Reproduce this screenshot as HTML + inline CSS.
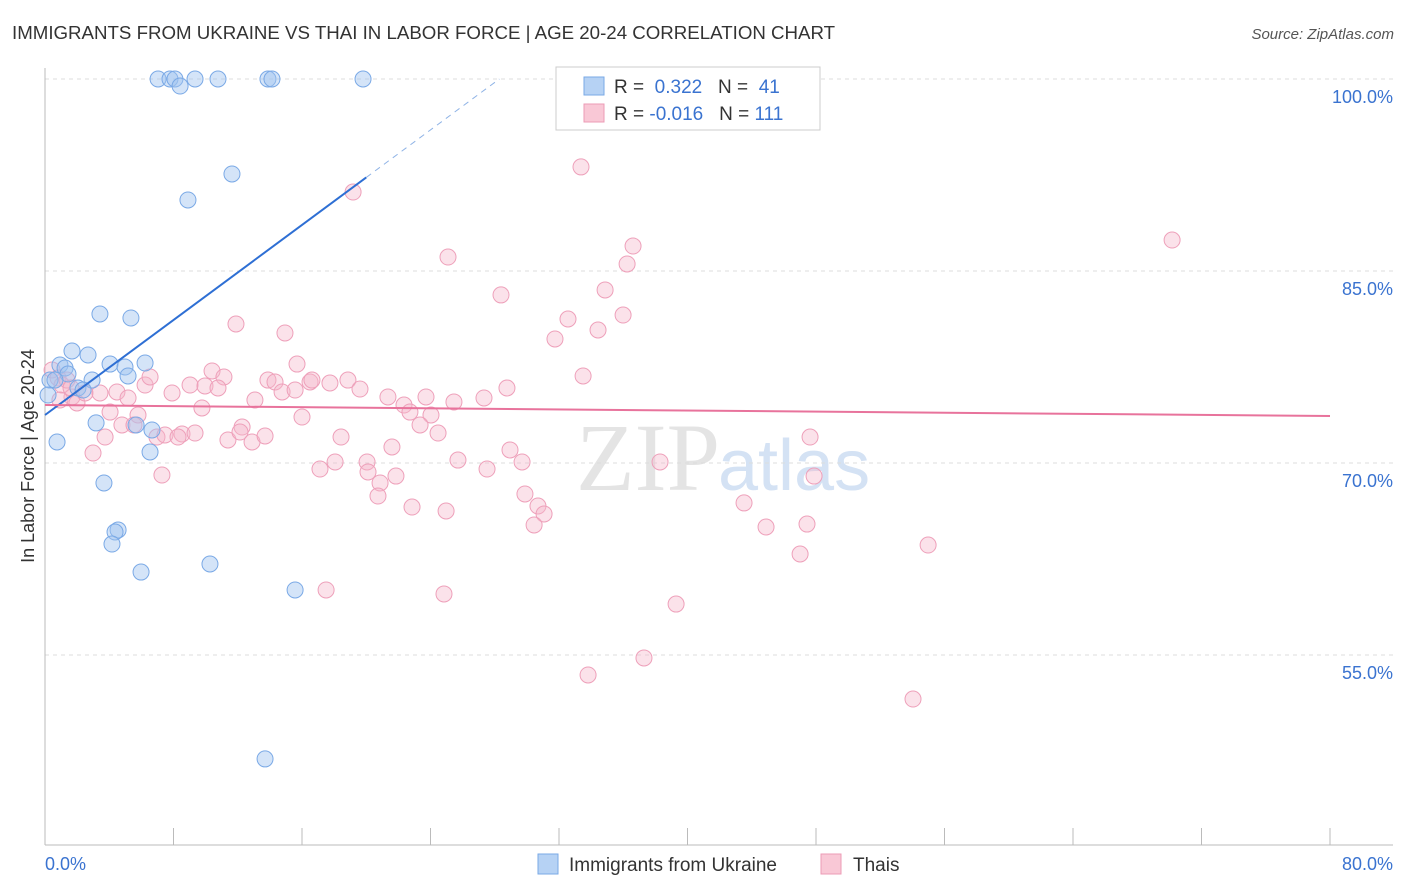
<!DOCTYPE html>
<html><head><meta charset="utf-8"><style>
body{margin:0;background:#fff;font-family:"Liberation Sans",sans-serif;}
svg{display:block}
</style></head><body>
<svg id="chart" width="1406" height="892">
<text x="12" y="39" font-size="18.7" fill="#333">IMMIGRANTS FROM UKRAINE VS THAI IN LABOR FORCE | AGE 20-24 CORRELATION CHART</text>
<text x="1394" y="39" font-size="15" fill="#555" font-style="italic" text-anchor="end">Source: ZipAtlas.com</text>
<text x="720" y="490" font-size="96" fill="#e4e4e4" text-anchor="end" font-family="Liberation Serif,serif">ZIP</text>
<text x="718" y="490" font-size="72" fill="#d4e2f4">atlas</text>
<g id="grid"></g><g id="axes"></g><g id="marks"></g>
<text transform="translate(34,456) rotate(-90)" font-size="18" fill="#333" text-anchor="middle">In Labor Force | Age 20-24</text>
<g>
<rect x="556" y="67" width="264" height="63" fill="#fff" stroke="#ccc"/>
<rect x="584" y="77" width="20" height="18" fill="#b6d2f4" stroke="#7aa9e6"/>
<rect x="584" y="104" width="20" height="18" fill="#f9c8d6" stroke="#ec9bb6"/>
<text x="614" y="93" font-size="19" fill="#333">R = <tspan fill="#3a73d0">&#160;0.322</tspan>&#160;&#160;&#160;N = <tspan fill="#3a73d0">&#160;41</tspan></text>
<text x="614" y="120" font-size="19" fill="#333">R = <tspan fill="#3a73d0">-0.016</tspan>&#160;&#160;&#160;N = <tspan fill="#3a73d0">111</tspan></text>
</g>
<g>
<rect x="538" y="854" width="20" height="20" fill="#b6d2f4" stroke="#7aa9e6"/>
<text x="569" y="871" font-size="19" fill="#333">Immigrants from Ukraine</text>
<rect x="821" y="854" width="20" height="20" fill="#f9c8d6" stroke="#ec9bb6"/>
<text x="853" y="871" font-size="19" fill="#333">Thais</text>
</g>
</svg>
<script>
const xTicksLabels=["0.0%","80.0%"];
const yTicks=[100,85,70,55];
const blueX=[7.04,7.78,8.09,9.34,10.77,13.88,14.13,19.80,8.41,11.64,8.90,3.42,5.35,1.68,2.68,0.93,1.25,4.05,4.98,6.23,1.43,2.93,5.17,0.31,0.62,2.05,2.37,0.19,3.18,5.67,6.66,0.75,6.54,3.67,4.55,4.36,4.17,5.98,10.27,15.57,13.70];
const blueY=[100,100,100,100,100,100,100,100,99.45,92.58,90.55,81.64,81.33,78.75,78.44,77.66,77.42,77.73,77.5,77.81,76.95,76.48,76.8,76.48,76.48,75.86,75.7,75.31,73.13,72.97,72.58,71.64,70.86,68.44,64.77,64.61,63.67,61.48,62.11,60.08,46.88];
const pinkX=[32.81,41.71,33.37,19.18,70.17,36.61,25.09,36.24,28.39,34.87,35.99,32.56,34.43,11.89,14.94,31.75,15.69,10.40,11.14,33.50,0.44,0.81,1.06,1.37,1.68,1.99,2.49,3.42,4.48,5.17,6.23,6.54,7.91,9.03,9.96,10.77,9.77,13.07,13.88,14.32,14.76,15.57,16.50,16.62,17.74,18.86,19.61,21.35,22.35,22.72,23.72,24.03,23.35,24.47,25.46,27.33,28.76,16.00,4.05,5.79,6.97,4.79,5.54,7.47,8.53,8.28,9.34,11.39,12.27,12.14,12.89,13.70,3.74,2.99,7.28,18.43,17.12,18.06,20.05,20.11,20.86,20.73,21.85,21.60,22.85,24.97,25.71,27.52,28.95,29.70,29.88,30.69,31.07,30.45,38.29,43.52,44.89,47.44,47.01,47.88,47.63,54.98,17.50,24.84,39.29,33.81,37.29,54.04,1.62,0.93];
const pinkY=[100,100,93.13,91.17,87.42,86.95,86.09,85.55,83.13,83.52,81.56,81.25,80.39,80.86,80.16,79.69,77.73,77.19,76.72,76.8,77.27,76.64,76.09,76.48,75.16,74.69,75.47,75.47,75.55,75.08,76.09,76.72,75.47,76.09,76.02,75.86,74.3,74.92,76.48,76.33,75.55,75.7,76.33,76.48,76.25,76.48,75.78,75.16,74.53,73.98,75.16,73.75,72.97,72.34,74.77,75.08,75.86,73.59,73.98,73.75,72.03,72.97,72.97,72.19,72.27,72.03,72.34,71.8,72.81,72.42,71.64,72.11,72.03,70.78,69.06,72.03,69.53,70.08,70.08,69.3,68.44,67.42,68.98,71.25,66.56,66.25,70.23,69.53,71.02,70.08,67.58,66.64,66.02,65.16,70.08,66.88,65.0,65.23,62.89,68.98,72.03,63.59,60.08,59.77,58.98,53.44,54.77,51.56,75.86,74.92];
const blueTrend=[73.75,0.928];
const pinkTrend=[74.53,73.67];
const NS="http://www.w3.org/2000/svg";
const sx=v=>45+v*(1285/80), sy=v=>79+(100-v)*12.8;
function mk(tag,attrs,parent){const e=document.createElementNS(NS,tag);for(const k in attrs)e.setAttribute(k,attrs[k]);parent.appendChild(e);return e;}
const grid=document.getElementById('grid'),axes=document.getElementById('axes'),marks=document.getElementById('marks');
yTicks.forEach(t=>{
 const l=mk('line',{x1:45,x2:1393,y1:sy(t),y2:sy(t),stroke:'#ddd','stroke-dasharray':'4,4'},grid);
 
 
 const tx=mk('text',{x:1393,y:sy(t)+24,'font-size':18,fill:'#3a73d0','text-anchor':'end'},axes);
 tx.textContent=t.toFixed(1)+'%';
 
 
});
mk('line',{x1:45,x2:45,y1:68,y2:845,stroke:'#bbb'},axes);
mk('line',{x1:45,x2:1393,y1:845,y2:845,stroke:'#bbb'},axes);
for(let i=0;i<=10;i++){
 const tk=mk('line',{x1:sx(i*8),x2:sx(i*8),y1:828,y2:845,stroke:'#bbb'},axes);
 
 
}
const xl0=mk('text',{x:45,y:870,'font-size':18,fill:'#3a73d0'},axes);xl0.textContent=xTicksLabels[0];


const xl1=mk('text',{x:1393,y:870,'font-size':18,fill:'#3a73d0','text-anchor':'end'},axes);xl1.textContent=xTicksLabels[1];


pinkX.forEach((x,i)=>{
 const c=mk('circle',{cx:sx(x),cy:sy(pinkY[i]),r:8,fill:'rgba(246,182,203,0.4)',stroke:'#eea0ba','stroke-width':1},marks);
 
 
});
blueX.forEach((x,i)=>{
 const c=mk('circle',{cx:sx(x),cy:sy(blueY[i]),r:8,fill:'rgba(160,196,240,0.45)',stroke:'#7aa9e6','stroke-width':1},marks);
 
 
});
const xEnd=(100-blueTrend[0])/blueTrend[1];
const bt=mk('line',{x1:sx(0),y1:sy(blueTrend[0]),x2:sx(20),y2:sy(blueTrend[0]+20*blueTrend[1]),stroke:'#2e6fd4','stroke-width':2},marks);


const bd=mk('line',{x1:sx(20),y1:sy(blueTrend[0]+20*blueTrend[1]),x2:sx(xEnd),y2:sy(100),stroke:'#8fb3e6','stroke-width':1,'stroke-dasharray':'6,5'},marks);


const pt=mk('line',{x1:sx(0),y1:sy(pinkTrend[0]),x2:sx(80),y2:sy(pinkTrend[1]),stroke:'#e8739c','stroke-width':2},marks);


</script>
</body></html>
